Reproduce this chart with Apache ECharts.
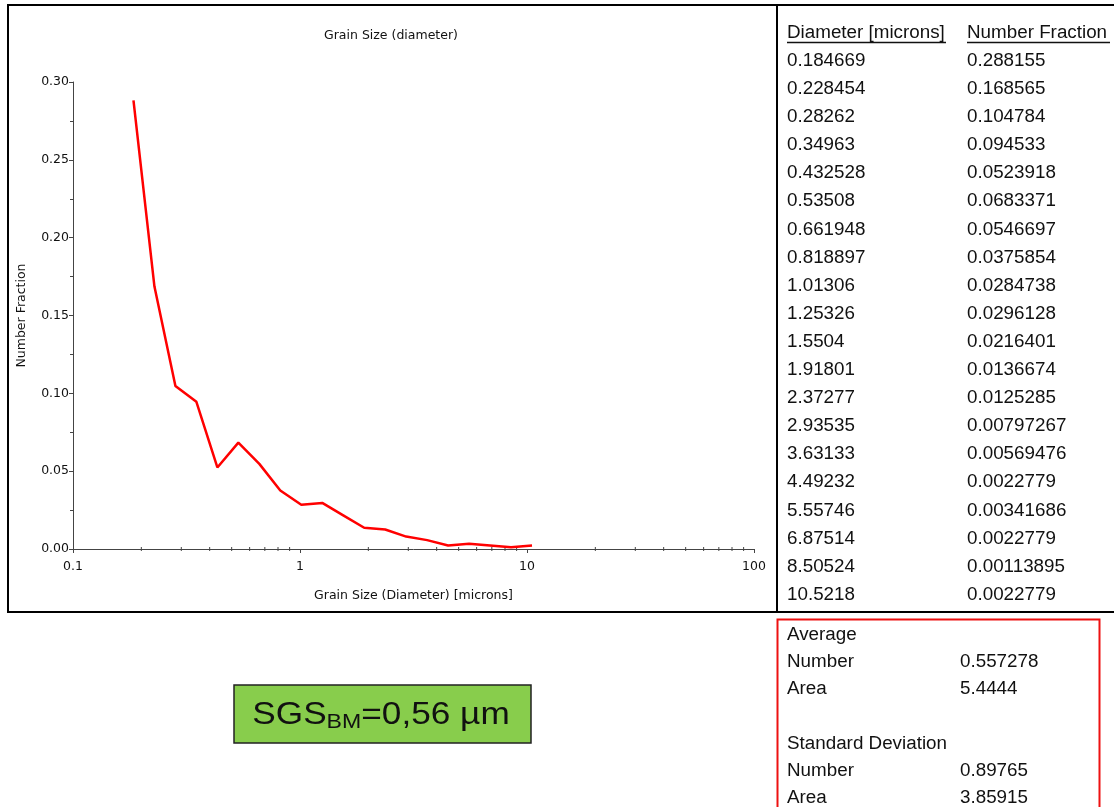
<!DOCTYPE html>
<html>
<head>
<meta charset="utf-8">
<style>
  html, body { margin: 0; padding: 0; background: #fff; }
  #chart { width: 1114px; height: 807px; }
</style>
<script src="https://cdn.jsdelivr.net/npm/echarts@6/dist/echarts.min.js"></script>
</head>
<body>
<div id="chart"></div>
<script>
// Grain size distribution (number fraction vs. diameter)
const diameters = [0.184669, 0.228454, 0.28262, 0.34963, 0.432528, 0.53508, 0.661948, 0.818897,
  1.01306, 1.25326, 1.5504, 1.91801, 2.37277, 2.93535, 3.63133, 4.49232, 5.55746, 6.87514,
  8.50524, 10.5218];
const fractions = [0.288155, 0.168565, 0.104784, 0.094533, 0.0523918, 0.0683371, 0.0546697,
  0.0375854, 0.0284738, 0.0296128, 0.0216401, 0.0136674, 0.0125285, 0.00797267, 0.00569476,
  0.0022779, 0.00341686, 0.0022779, 0.00113895, 0.0022779];
const tableHeaders = ['Diameter [microns]', 'Number Fraction'];
const statLabels = ['Average', 'Number', 'Area', '', 'Standard Deviation', 'Number', 'Area'];
const statValues = ['', '0.557278', '5.4444', '', '', '0.89765', '3.85915'];
const minorLogTicks = [0.2, 0.3, 0.4, 0.5, 0.6, 0.7, 0.8, 0.9, 2, 3, 4, 5, 6, 7, 8, 9,
  20, 30, 40, 50, 60, 70, 80, 90];

const chart = echarts.init(document.getElementById('chart'));
const axisFont = 'DejaVu Sans, Tahoma, sans-serif';
const tableFont = 'Liberation Sans, Arial, sans-serif';
const tableSX = 1.045;

const graphics = [];
// frame around plot and table
graphics.push({ type: 'rect', shape: { x: 8, y: 5, width: 1110, height: 607 },
  style: { fill: null, stroke: '#000', lineWidth: 2 }, z: 10 });
graphics.push({ type: 'line', shape: { x1: 777, y1: 5, x2: 777, y2: 612 },
  style: { stroke: '#000', lineWidth: 2 }, z: 10 });

function tableText(txt, x, y, size) {
  return { type: 'text', x: x, y: y, scaleX: tableSX,
    style: { text: txt, font: size + 'px ' + tableFont, fill: '#111', verticalAlign: 'middle' } };
}

// table header with underlines
const colX = [787, 967];
tableHeaders.forEach((h, i) => graphics.push(tableText(h, colX[i], 33, 18)));
graphics.push({ type: 'line', shape: { x1: 787, y1: 42.5, x2: 946, y2: 42.5 }, style: { stroke: '#111', lineWidth: 1.5 } });
graphics.push({ type: 'line', shape: { x1: 967, y1: 42.5, x2: 1110, y2: 42.5 }, style: { stroke: '#111', lineWidth: 1.5 } });

// table rows
diameters.forEach((d, i) => {
  const y = 61 + i * 28.1;
  graphics.push(tableText(String(d), colX[0], y, 18));
  graphics.push(tableText(String(fractions[i]), colX[1], y, 18));
});

// statistics box
graphics.push({ type: 'rect', shape: { x: 777.5, y: 619.5, width: 322, height: 200 },
  style: { fill: null, stroke: '#ee1111', lineWidth: 2 } });
statLabels.forEach((s, i) => {
  const y = 635 + i * 27.2;
  if (s) graphics.push(tableText(s, 787, y, 18));
  if (statValues[i]) graphics.push(tableText(statValues[i], 960, y, 18));
});

// SGS result box
graphics.push({ type: 'rect', shape: { x: 234, y: 685, width: 297, height: 58 },
  style: { fill: '#88cd4c', stroke: '#222', lineWidth: 1.5 } });
graphics.push({ type: 'text', x: 381, y: 715, scaleX: 1.1,
  style: {
    text: '{a|SGS}{b|BM}{a|=0,56 µm}', align: 'center', verticalAlign: 'middle',
    rich: {
      a: { font: '32px ' + tableFont, fill: '#111', verticalAlign: 'middle' },
      b: { font: '21px ' + tableFont, fill: '#111', padding: [14, 0, 0, 0] }
    }
  } });

chart.setOption({
  animation: false,
  backgroundColor: '#fff',
  title: {
    text: 'Grain Size (diameter)', left: 386, top: 24, textAlign: 'center',
    textStyle: { fontFamily: axisFont, fontSize: 12.5, fontWeight: 'normal', color: '#111' }
  },
  grid: { left: 73, right: 360, top: 82, bottom: 258 },
  xAxis: {
    type: 'log', logBase: 10, min: 0.1, max: 100,
    name: 'Grain Size (Diameter) [microns]', nameLocation: 'middle', nameGap: 40,
    nameTextStyle: { fontFamily: axisFont, fontSize: 12.5, color: '#111' },
    axisLine: { lineStyle: { color: '#444', width: 1 } },
    axisTick: { show: true, length: 4, lineStyle: { color: '#444' } },
    minorTick: { show: false },
    axisLabel: { fontFamily: axisFont, fontSize: 12.5, color: '#111', margin: 11 },
    splitLine: { show: false }
  },
  yAxis: {
    type: 'value', min: 0, max: 0.30, interval: 0.05,
    name: 'Number Fraction', nameLocation: 'middle', nameGap: 45,
    nameTextStyle: { fontFamily: axisFont, fontSize: 12.5, color: '#111' },
    axisLine: { show: true, lineStyle: { color: '#444', width: 1 } },
    axisTick: { show: true, length: 4, lineStyle: { color: '#444' } },
    minorTick: { show: true, splitNumber: 2, length: 3, lineStyle: { color: '#444' } },
    axisLabel: { fontFamily: axisFont, fontSize: 12.5, color: '#111', margin: 4,
      formatter: v => v.toFixed(2) },
    splitLine: { show: false }
  },
  series: [
    {
      type: 'line',
      data: diameters.map((d, i) => [d, fractions[i]]),
      showSymbol: false,
      lineStyle: { color: '#ff0000', width: 2.5 },
      z: 5
    },
    {
      // intermediate log ticks (2..9 in each decade)
      type: 'custom',
      data: minorLogTicks.map(v => [v, 0]),
      encode: { x: 0, y: 1 },
      silent: true,
      renderItem: (params, api) => {
        const p = api.coord([api.value(0), 0]);
        return { type: 'line', shape: { x1: p[0], y1: p[1] - 2, x2: p[0], y2: p[1] + 2 },
          style: { stroke: '#444', lineWidth: 1 } };
      },
      z: 4
    }
  ],
  graphic: graphics
});
</script>
</body>
</html>
